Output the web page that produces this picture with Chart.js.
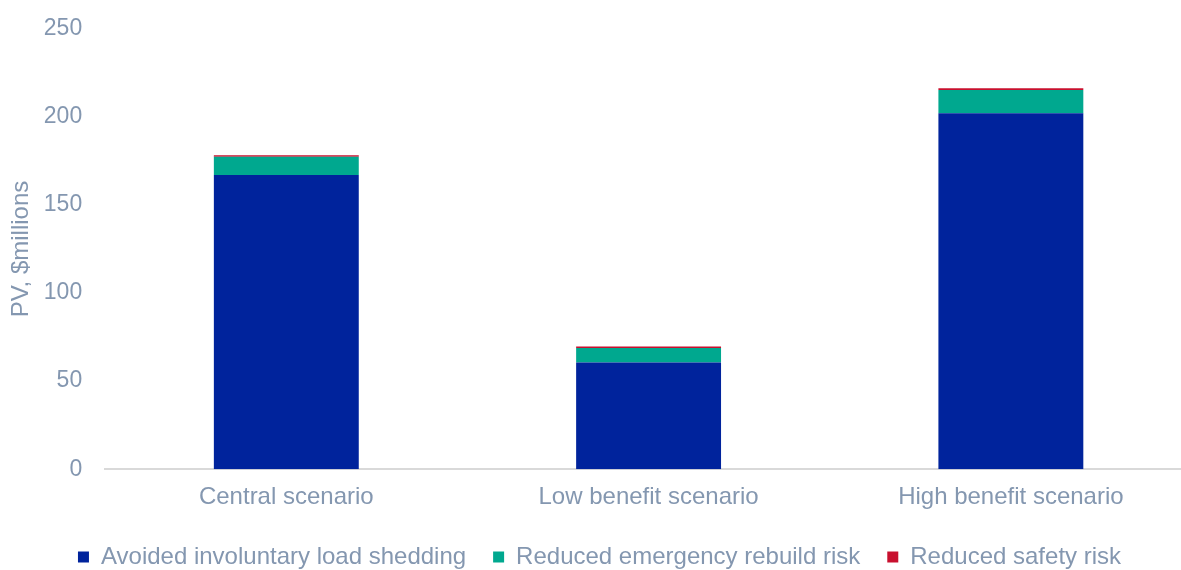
<!DOCTYPE html>
<html>
<head>
<meta charset="utf-8">
<script src="https://cdn.jsdelivr.net/npm/chart.js@4"></script>
<style>
    html, body { margin: 0; padding: 0; background: #fff; overflow: hidden; }
    .chart-container { position: relative; width: 1192px; height: 570px; }
</style>
</head>
<body>
<div class="chart-container"><canvas id="benefitChart"></canvas></div>
<script>
// Data
const scenarios = ['Central scenario', 'Low benefit scenario', 'High benefit scenario'];
const loadShedding = [167, 60.5, 202];
const rebuildRisk = [10.3, 8.3, 13.3];
const safetyRisk = [0.9, 0.8, 0.9];
const yTicks = [0, 50, 100, 150, 200, 250];

const textColor = '#8497B0';

document.addEventListener('DOMContentLoaded', () => {
    const ctx = document.getElementById('benefitChart');
    new Chart(ctx, {
        type: 'bar',
        data: {
            labels: scenarios,
            datasets: [{
                label: 'Avoided involuntary load shedding',
                data: loadShedding,
                backgroundColor: '#00239C'
            }, {
                label: 'Reduced emergency rebuild risk',
                data: rebuildRisk,
                backgroundColor: '#00A88F'
            }, {
                label: 'Reduced safety risk',
                data: safetyRisk,
                backgroundColor: '#C8102E'
            }]
        },
        options: {
            responsive: true,
            maintainAspectRatio: false,
            animation: false,
            layout: {
                padding: { top: 12, right: 0, bottom: -9, left: 7 }
            },
            datasets: {
                bar: { categoryPercentage: 1, barPercentage: 0.4 }
            },
            plugins: {
                legend: {
                    position: 'bottom',
                    labels: {
                        color: textColor,
                        font: { family: 'Liberation Sans', size: 24 },
                        boxWidth: 11,
                        boxHeight: 11,
                        padding: 27
                    }
                },
                tooltip: { enabled: false }
            },
            scales: {
                x: {
                    stacked: true,
                    grid: { display: false },
                    border: { color: '#D9D9D9', width: 2 },
                    ticks: {
                        color: textColor,
                        font: { family: 'Liberation Sans', size: 24 },
                        padding: 6
                    }
                },
                y: {
                    stacked: true,
                    min: 0,
                    max: 250,
                    afterBuildTicks: axis => {
                        axis.ticks = yTicks.map(v => ({ value: v }));
                    },
                    // pull the axis title closer to the tick labels
                    afterFit: axis => { axis.width -= 13; },
                    grid: { display: false },
                    border: { display: false },
                    ticks: {
                        color: textColor,
                        font: { family: 'Liberation Sans', size: 23 },
                        padding: 15
                    },
                    title: {
                        display: true,
                        text: 'PV, $millions',
                        color: textColor,
                        font: { family: 'Liberation Sans', size: 24 },
                        padding: { top: 0, bottom: 6 }
                    }
                }
            }
        }
    });
});
</script>
</body>
</html>
